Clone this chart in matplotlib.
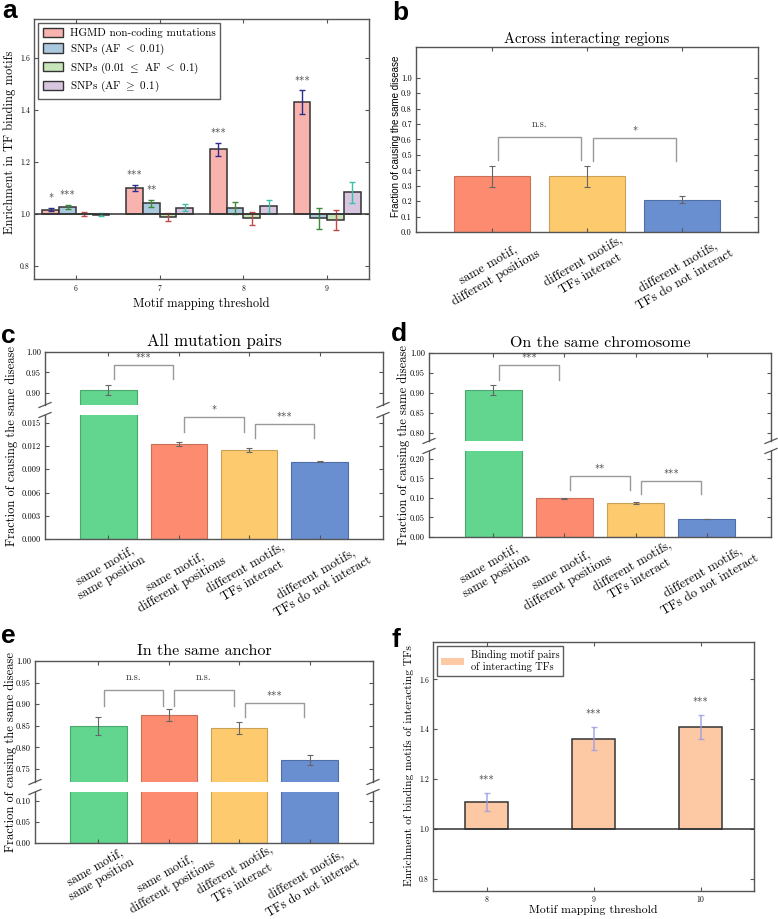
import matplotlib

matplotlib.use("Agg")
import matplotlib.pyplot as plt
import numpy as np
from matplotlib.lines import Line2D
from matplotlib.patches import Patch
from matplotlib.ticker import FormatStrFormatter

plt.rcParams["font.family"] = "cmr10"
plt.rcParams["mathtext.fontset"] = "cm"
plt.rcParams["axes.formatter.use_mathtext"] = True
plt.rcParams["axes.unicode_minus"] = False

# ─── panel a: enrichment in TF binding motifs ───────────────────────────────
thresholds_a = [6, 7, 8, 9]
series_a = [
    "HGMD non-coding mutations",
    r"SNPs (AF $<$ 0.01)",
    r"SNPs (0.01 $\leq$ AF $<$ 0.1)",
    r"SNPs (AF $\geq$ 0.1)",
]
hgmd = [1.017, 1.099, 1.25, 1.43]
hgmd_err = [0.006, 0.012, 0.025, 0.046]
snp_rare = [1.026, 1.041, 1.024, 0.983]
snp_rare_err = [0.008, 0.014, 0.024, 0.040]
snp_low = [1.001, 0.988, 0.983, 0.977]
snp_low_err = [0.008, 0.014, 0.024, 0.040]
snp_common = [0.998, 1.025, 1.03, 1.083]
snp_common_err = [0.006, 0.015, 0.025, 0.042]
# (threshold, series index, label)
stars_a = [(6, 0, "*"), (6, 1, "***"), (7, 0, "***"), (7, 1, "**"), (8, 0, "***"), (9, 0, "***")]

# ─── panels b-e: fraction of pairs causing the same disease ─────────────────
cats_b = [
    "same motif,\ndifferent positions",
    "different motifs,\nTFs interact",
    "different motifs,\nTFs do not interact",
]
vals_b = [0.36, 0.36, 0.21]
err_b = [0.07, 0.07, 0.025]

cats_cde = [
    "same motif,\nsame position",
    "same motif,\ndifferent positions",
    "different motifs,\nTFs interact",
    "different motifs,\nTFs do not interact",
]
vals_c = [0.907, 0.0123, 0.0115, 0.0100]
err_c = [0.012, 0.00025, 0.0003, 0.00005]
vals_d = [0.907, 0.0987, 0.087, 0.0456]
err_d = [0.012, 0.0015, 0.0015, 0.0004]
vals_e = [0.849, 0.875, 0.844, 0.771]
err_e = [0.021, 0.014, 0.014, 0.011]

# significance brackets: (bar i, bar j, top, leg i bottom, leg j bottom, label)
brackets_b = [(0, 1, 0.613, 0.465, 0.465, "n.s."), (1, 2, 0.61, 0.46, 0.46, "*")]
brackets_c_top = [(0, 1, 0.968, 0.933, 0.933, "***")]
brackets_c_bot = [(1, 2, 0.0157, 0.0138, 0.0138, "*"), (2, 3, 0.01487, 0.01308, 0.01308, "***")]
brackets_d_top = [(0, 1, 0.97, 0.933, 0.933, "***")]
brackets_d_bot = [(1, 2, 0.156, 0.121, 0.121, "**"), (2, 3, 0.144, 0.11, 0.11, "***")]
brackets_e = [
    (0, 1, 0.932, 0.897, 0.897, "n.s."),
    (1, 2, 0.932, 0.897, 0.897, "n.s."),
    (2, 3, 0.902, 0.870, 0.870, "***"),
]

# ─── panel f: interacting TF motif pairs ────────────────────────────────────
thresholds_f = [8, 9, 10]
vals_f = [1.107, 1.362, 1.408]
err_f = [0.037, 0.045, 0.048]
stars_f = ["***", "***", "***"]

# ─── style ──────────────────────────────────────────────────────────────────
EDGE = "#555555"
A_COLORS = ["#f8b3ae", "#abc9de", "#c6e5b8", "#d8c6e0"]
A_ECOLORS = ["#2d2d8c", "#3a8a3a", "#c24a4a", "#3cbfa8"]
GREEN, SALMON, YELLOW, BLUE = "#62d58e", "#fd8b6f", "#fdca6e", "#6a8fd0"
GREEN_E, SALMON_E, YELLOW_E, BLUE_E = "#4aa86e", "#c8705a", "#c9a258", "#4f6ea8"

W, H = 778, 919
fig = plt.figure(figsize=(W / 100, H / 100), dpi=100)


def add_ax(x0, y0, x1, y1):
    """Axes from pixel box (origin top-left)."""
    return fig.add_axes([x0 / W, 1 - y1 / H, (x1 - x0) / W, (y1 - y0) / H])


def style_ax(ax, labelsize=6):
    for s in ax.spines.values():
        s.set_color(EDGE)
        s.set_linewidth(1.0)
    ax.tick_params(
        direction="in", top=True, right=True, length=3, width=0.8,
        color=EDGE, labelsize=labelsize, pad=3,
    )


def fig_text(x, y, s, **kw):
    fig.text(x / W, 1 - y / H, s, **kw)


def break_marks(xs, ys):
    for x in xs:
        for y in ys:
            fig.add_artist(Line2D(
                [(x - 6) / W, (x + 6) / W], [1 - (y + 2.5) / H, 1 - (y - 2.5) / H],
                transform=fig.transFigure, color=EDGE, lw=0.9,
            ))


def draw_bars(ax, vals, errs, colors, edges):
    x = np.arange(len(vals))
    ax.bar(x, vals, width=0.8, color=colors, edgecolor=edges, linewidth=0.8)
    ax.errorbar(x, vals, yerr=errs, fmt="none", ecolor="#666666",
                elinewidth=0.8, capsize=2, capthick=0.8)


def draw_brackets(ax, brackets, inset=0.08, fs=7.5):
    for i, j, top, li, lj, label in brackets:
        xi, xj = i + inset, j - inset
        ax.plot([xi, xi, xj, xj], [li, top, top, lj], color="#999999", lw=1.0, clip_on=False)
        off = 6 if label == "n.s." else 0.5
        ax.annotate(label, ((xi + xj) / 2, top), xytext=(0, off), textcoords="offset points",
                    ha="center", va="bottom", fontsize=fs, color="#333333",
                    annotation_clip=False)


def cat_ticks(ax, cats, fs=9.2, pad=2):
    ax.set_xticks(np.arange(len(cats)))
    ax.set_xticklabels(cats, rotation=30, ha="center", fontsize=fs, multialignment="center")
    ax.tick_params(axis="x", pad=pad)


def broken_panel(box_top, box_bot, vals, errs, ylim_top, ylim_bot, yt_top, yt_bot,
                 fmt_top, fmt_bot, br_top, br_bot, title, title_fs, cat_fs=9.2, cat_pad=2):
    colors = [GREEN, SALMON, YELLOW, BLUE]
    edges = [GREEN_E, SALMON_E, YELLOW_E, BLUE_E]
    ax_t = add_ax(*box_top)
    ax_b = add_ax(*box_bot)
    for ax in (ax_t, ax_b):
        style_ax(ax)
        draw_bars(ax, vals, errs, colors, edges)
        ax.set_xlim(-0.9, 3.9)
    ax_t.set_ylim(*ylim_top)
    ax_b.set_ylim(*ylim_bot)
    ax_t.set_yticks(yt_top)
    ax_b.set_yticks(yt_bot)
    ax_t.yaxis.set_major_formatter(FormatStrFormatter(fmt_top))
    ax_b.yaxis.set_major_formatter(FormatStrFormatter(fmt_bot))
    ax_t.spines["bottom"].set_visible(False)
    ax_b.spines["top"].set_visible(False)
    ax_t.set_xticks(np.arange(4))
    ax_t.tick_params(bottom=False, labelbottom=False)
    ax_b.tick_params(top=False)
    cat_ticks(ax_b, cats_cde, fs=cat_fs, pad=cat_pad)
    draw_brackets(ax_t, br_top)
    draw_brackets(ax_b, br_bot)
    ax_t.set_title(title, fontsize=title_fs, pad=4)
    break_marks([box_top[0], box_top[2]], [box_top[3], box_bot[1]])
    return ax_t, ax_b


# ─── a ──────────────────────────────────────────────────────────────────────
ax = add_ax(34, 19, 369, 279)
style_ax(ax, labelsize=5.5)
xa = np.array(thresholds_a, dtype=float)
vals_a = [hgmd, snp_rare, snp_low, snp_common]
errs_a = [hgmd_err, snp_rare_err, snp_low_err, snp_common_err]
offsets = [-0.3, -0.1, 0.1, 0.3]
for k in range(4):
    v = np.array(vals_a[k])
    ax.bar(xa + offsets[k], v - 1.0, bottom=1.0, width=0.2, color=A_COLORS[k],
           edgecolor="#333333", linewidth=1.1, label=series_a[k])
    ax.errorbar(xa + offsets[k], v, yerr=errs_a[k], fmt="none", ecolor=A_ECOLORS[k],
                elinewidth=1.0, capsize=2, capthick=1.0)
for t, k, s in stars_a:
    i = thresholds_a.index(t)
    top = vals_a[k][i] + errs_a[k][i]
    ax.annotate(s, (t + offsets[k], top), xytext=(0, 2.5), textcoords="offset points",
                ha="center", va="bottom", fontsize=7.5, color="#333333")
ax.axhline(1.0, color="#333333", lw=1.1)
ax.set_xlim(5.5, 9.5)
ax.set_ylim(0.75, 1.75)
ax.set_xticks(thresholds_a)
ax.set_yticks([0.8, 1.0, 1.2, 1.4, 1.6])
ax.yaxis.set_major_formatter(FormatStrFormatter("%.1f"))
ax.set_xlabel("Motif mapping threshold", fontsize=9, labelpad=3)
handles = [Patch(facecolor=A_COLORS[k], edgecolor="#333333", label=series_a[k]) for k in range(4)]
leg = ax.legend(handles=handles, loc="upper left", fontsize=8, fancybox=False,
                handlelength=1.8, handleheight=0.9, labelspacing=0.3, borderaxespad=0.4,
                borderpad=0.4, handletextpad=0.6)
leg.get_frame().set_edgecolor("#333333")
fig_text(10, 142, "Enrichment in TF binding motifs", rotation=90, ha="center", va="center", fontsize=9)

# ─── b ──────────────────────────────────────────────────────────────────────
ax = add_ax(416, 47, 758, 232)
style_ax(ax)
draw_bars(ax, vals_b, err_b, [SALMON, YELLOW, BLUE], [SALMON_E, YELLOW_E, BLUE_E])
ax.set_xlim(-0.8, 2.8)
ax.set_ylim(0, 1.2)
ax.set_yticks(np.arange(0, 1.01, 0.1))
ax.yaxis.set_major_formatter(FormatStrFormatter("%.1f"))
cat_ticks(ax, cats_b)
draw_brackets(ax, brackets_b, inset=0.065)
ax.set_title("Across interacting regions", fontsize=10.5, pad=3)
fig_text(396, 136, "Fraction of causing the same disease", rotation=90, ha="center",
         va="center", fontsize=7, family="Liberation Sans")

# ─── c ──────────────────────────────────────────────────────────────────────
broken_panel((45, 352, 383, 405), (45, 415, 383, 539), vals_c, err_c,
             (0.87, 1.0), (0, 0.016), [0.90, 0.95, 1.00], np.arange(0, 0.0151, 0.003),
             "%.2f", "%.3f", brackets_c_top, brackets_c_bot, "All mutation pairs", 12)
fig_text(12, 446, "Fraction of causing the same disease", rotation=90, ha="center",
         va="center", fontsize=9)

# ─── d ──────────────────────────────────────────────────────────────────────
broken_panel((429, 353, 771, 441), (429, 451, 771, 537), vals_d, err_d,
             (0.78, 1.0), (0, 0.22), np.arange(0.80, 1.001, 0.05), np.arange(0, 0.201, 0.05),
             "%.2f", "%.2f", brackets_d_top, brackets_d_bot, "On the same chromosome", 11.5)
fig_text(404, 445, "Fraction of causing the same disease", rotation=90, ha="center",
         va="center", fontsize=9)

# ─── e ──────────────────────────────────────────────────────────────────────
broken_panel((35, 661, 373, 782), (35, 792, 373, 843), vals_e, err_e,
             (0.72, 1.0), (0, 0.12), np.arange(0.75, 1.001, 0.05), [0, 0.05, 0.10],
             "%.2f", "%.2f", brackets_e, [], "In the same anchor", 11.5,
             cat_fs=8.8, cat_pad=1)
fig_text(11, 752, "Fraction of causing the same disease", rotation=90, ha="center",
         va="center", fontsize=9)

# ─── f ──────────────────────────────────────────────────────────────────────
ax = add_ax(433, 642, 754, 891)
style_ax(ax, labelsize=5.5)
ax.bar(thresholds_f, np.array(vals_f) - 1.0, bottom=1.0, width=0.4, color="#fdc9a5",
       edgecolor="#333333", linewidth=1.1)
ax.errorbar(thresholds_f, vals_f, yerr=err_f, fmt="none", ecolor="#9a9ae6",
            elinewidth=1.2, capsize=2, capthick=1.0, alpha=0.8)
for t, v, e, s in zip(thresholds_f, vals_f, err_f, stars_f):
    ax.annotate(s, (t, v + e), xytext=(0, 5), textcoords="offset points",
                ha="center", va="bottom", fontsize=7.5, color="#333333")
ax.axhline(1.0, color="#333333", lw=1.1)
ax.set_xlim(7.5, 10.5)
ax.set_ylim(0.75, 1.75)
ax.set_xticks(thresholds_f)
ax.set_yticks([0.8, 1.0, 1.2, 1.4, 1.6])
ax.yaxis.set_major_formatter(FormatStrFormatter("%.1f"))
ax.tick_params(axis="x", pad=2)
ax.set_xlabel("Motif mapping threshold", fontsize=8.5, labelpad=1)
leg = ax.legend(handles=[Patch(facecolor="#fdc9a5", edgecolor="none",
                               label="Binding motif pairs\nof interacting TFs")],
                loc="upper left", fontsize=7.5, fancybox=False, handlelength=2.2,
                borderaxespad=0.4, borderpad=0.4, handletextpad=0.6)
leg.get_frame().set_edgecolor("#333333")
fig_text(409, 766, "Enrichment of binding motifs of interacting TFs", rotation=90,
         ha="center", va="center", fontsize=8.2)

# ─── panel letters ──────────────────────────────────────────────────────────
for letter, x, y in [("a", 2, 18), ("b", 392, 20), ("c", 1, 343), ("d", 391, 341),
                     ("e", 1, 643), ("f", 392, 647)]:
    fig_text(x, y, letter, fontsize=19, fontweight="bold", family="Liberation Sans",
             ha="left", va="baseline")

fig.savefig("out.png", dpi=100)
